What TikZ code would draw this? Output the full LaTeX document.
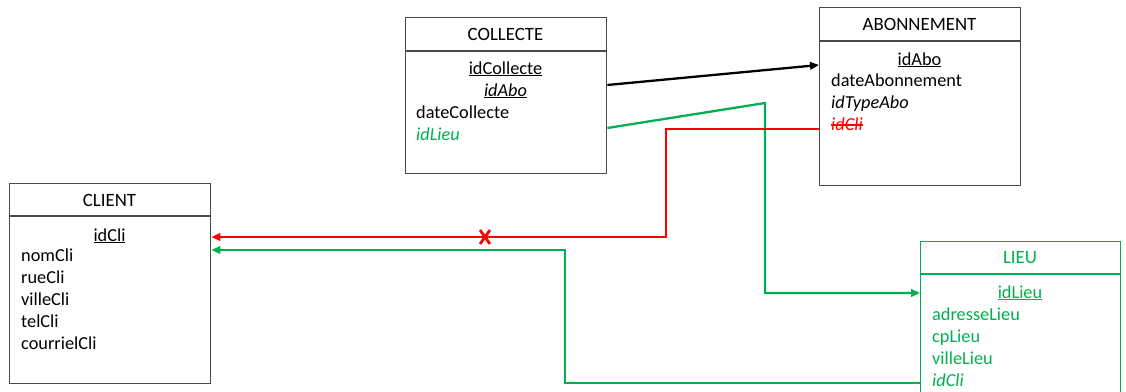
\documentclass[tikz,border=0pt]{standalone}
\usepackage{fontspec}
\setmainfont{Carlito}
\usetikzlibrary{arrows.meta,calc}
\definecolor{offgreen}{HTML}{00B050}
\definecolor{boxgray}{HTML}{4A4A4A}
\tikzset{
  entity/.style={draw=boxgray, line width=1.4pt, rectangle, inner sep=0pt, anchor=north west, minimum width=201pt},
  ttl/.style={font=\fontsize{18.8}{22}\selectfont, inner sep=0pt},
  attr/.style={font=\fontsize{18.3}{22}\selectfont, inner sep=0pt, anchor=base west},
  key/.style={font=\fontsize{18.3}{22}\selectfont, inner sep=0pt, anchor=base},
  tip/.style={-{Triangle[length=9pt,width=7.5pt]}},
  blk/.style={tip, line width=2.3pt, black},
  redl/.style={tip, line width=2.8pt, red},
  grn/.style={tip, line width=2.3pt, offgreen},
}
\begin{document}
\begin{tikzpicture}[x=1pt,y=-1pt]
\useasboundingbox (0,0) rectangle (1126,391);
% boxes
\node[entity, minimum height=156pt] (collecte) at (405,17) {};
\draw[boxgray, line width=1.4pt] (405,51) -- (606,51);
\node[ttl] (tcol) at (505.5,34) {COLLECTE};
\node[key] (k1) at (505.5,74) {\underline{idCollecte}};
\node[key] (k2) at (505.5,96) {\underline{\itshape idAbo}};
\node[attr] (c3) at (416,118) {dateCollecte};
\node[attr, text=offgreen] (c4) at (416,140) {\itshape idLieu};

\node[entity, minimum height=178pt] (abo) at (819,7) {};
\draw[boxgray, line width=1.4pt] (819,41) -- (1020,41);
\node[ttl] (tabo) at (919.5,24) {ABONNEMENT};
\node[key] (a1) at (919.5,65) {\underline{idAbo}};
\node[attr] (a2) at (831,86) {dateAbonnement};
\node[attr] (a3) at (831,108) {\itshape idTypeAbo};
\node[attr, text=red] (a4) at (831,130) {\itshape idCli};
\draw[red, line width=1.2pt] ($(a4.base west)+(0,-5)$) -- ($(a4.base east)+(0,-5)$);

\node[entity, minimum height=200pt] (client) at (9,183) {};
\draw[boxgray, line width=1.4pt] (9,216) -- (210,216);
\node[ttl] (tcli) at (109.5,200) {CLIENT};
\node[key] (l1) at (109.5,241) {\underline{idCli}};
\node[attr] (l2) at (21,261) {nomCli};
\node[attr] (l3) at (21,283) {rueCli};
\node[attr] (l4) at (21,305) {villeCli};
\node[attr] (l5) at (21,327) {telCli};
\node[attr] (l6) at (21,349) {courrielCli};

\node[entity, draw=offgreen, line width=1.2pt, minimum width=200pt, minimum height=170pt] (lieu) at (920,241) {};
\draw[offgreen, line width=1.2pt] (920,274) -- (1120,274);
\node[ttl, text=offgreen] (tlieu) at (1020,258) {LIEU};
\node[key, text=offgreen] (u1) at (1020,298) {\underline{idLieu}};
\node[attr, text=offgreen] (u2) at (932,320) {adresseLieu};
\node[attr, text=offgreen] (u3) at (932,342) {cpLieu};
\node[attr, text=offgreen] (u4) at (932,364) {villeLieu};
\node[attr, text=offgreen] (u5) at (932,386) {\itshape idCli};

% connectors
\draw[blk] ($(collecte.north east)+(0,68)$) -- ($(abo.north west)+(0,58)$);
\draw[grn] ($(collecte.north east)+(0,111)$) -- (765,103) -- (765,293) -- ($(lieu.north west)+(0,52)$);
\draw[redl] ($(abo.north west)+(0,122)$) -- (666,129) -- (666,237) -- ($(client.north east)+(0,54)$);
\draw[grn] ($(lieu.north west)+(0,142)$) -- (565,383) -- (565,250) -- ($(client.north east)+(0,67)$);
% X mark
\coordinate (xm) at (485,237);
\draw[red, line width=2.8pt] ($(xm)+(-5,-7)$) -- ($(xm)+(5,7)$) ($(xm)+(5,-7)$) -- ($(xm)+(-5,7)$);
\end{tikzpicture}
\end{document}
